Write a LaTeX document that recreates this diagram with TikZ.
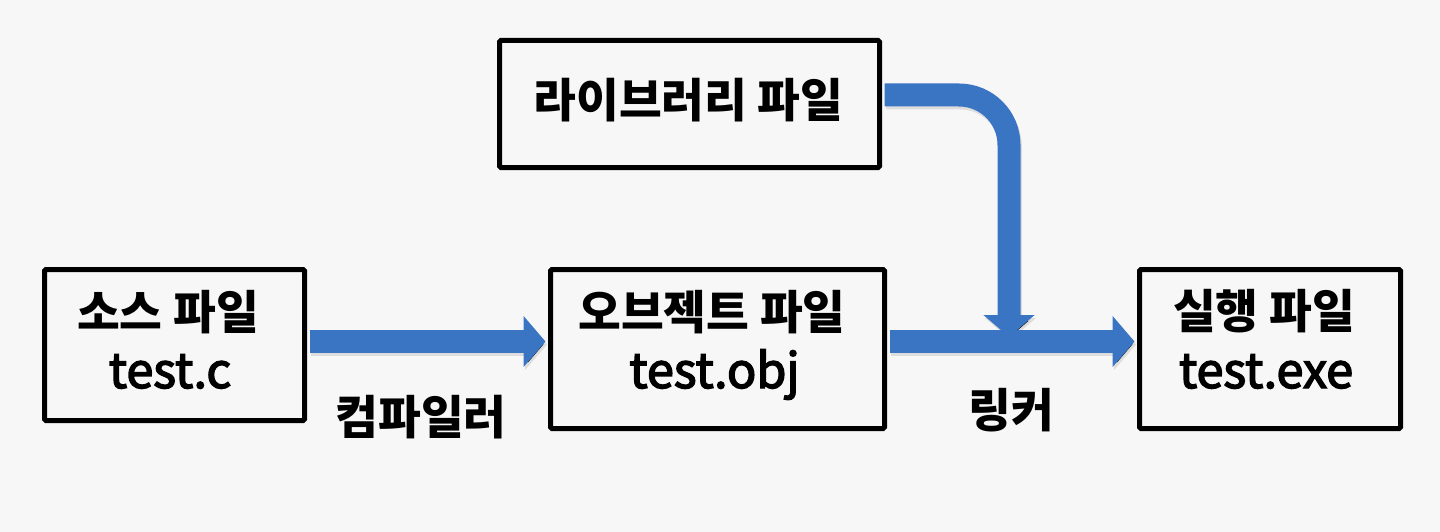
\documentclass[tikz,border=0pt]{standalone}
\usepackage{fontspec}
\newfontfamily\krfont{Noto Sans CJK KR}
\newfontfamily\latfont{Noto Sans CJK KR}[FakeBold=3]
\usetikzlibrary{arrows.meta}
\definecolor{bg}{RGB}{247,247,247}
\definecolor{arrowblue}{RGB}{58,117,196}
\begin{document}
\begin{tikzpicture}[x=1pt,y=-1pt,
  box/.style={draw=black,line width=5pt,rounded corners=1.5pt,inner sep=0pt},
  kt/.style={font=\krfont\bfseries\fontsize{46.5}{50}\selectfont,inner sep=0pt},
  lt/.style={font=\latfont\fontsize{48.5}{50}\selectfont,inner sep=0pt,anchor=base},
  flow/.style={draw=arrowblue,line width=23pt,shorten <=2.5pt,shorten >=2.5pt,
    -{Triangle[width=50pt,length=22pt]}},
  flowshadow/.style={flow,draw=black,draw opacity=0.10,transform canvas={shift={(1.5pt,-3pt)}}}]
\fill[bg] (0,0) rectangle (1440,532);
\useasboundingbox (0,0) rectangle (1440,532);
% boxes
\node[box,minimum width=260pt,minimum height=151pt] (src) at (174.5,345) {};
\node[box,minimum width=334pt,minimum height=159pt] (obj) at (717.5,349) {};
\node[box,minimum width=261pt,minimum height=159pt] (exe) at (1270,349) {};
\node[box,minimum width=380pt,minimum height=127pt] (lib) at (689.5,104) {};
% texts
\node[kt] (srcname) at (168,312) {소스 파일};
\node[lt] (srcfile) at (170,388) {test.c};
\node[kt] (objname) at (712,312) {오브젝트 파일};
\node[lt] (objfile) at (714.5,388) {test.obj};
\node[kt] (exename) at (1264,311) {실행 파일};
\node[lt] (exefile) at (1266,388) {test.exe};
\node[kt] (libname) at (688.5,100) {라이브러리 파일};
\node[kt] (compile) at (421,417) {컴파일러};
\node[kt] (link) at (1011,410) {링커};
% connectors
\coordinate (m) at (0,341.5);
\coordinate (lm) at (0,95);
\coordinate (drop) at (1009,339.5);
\draw[flowshadow] (src.east |- m) -- (obj.west |- m);
\draw[flowshadow] (obj.east |- m) -- (exe.west |- m);
\draw[flowshadow,rounded corners=50pt] (lib.east |- lm) -| (drop);
\draw[flow] (src.east |- m) -- (obj.west |- m);
\draw[flow] (obj.east |- m) -- (exe.west |- m);
\draw[flow,rounded corners=50pt] (lib.east |- lm) -| (drop);
\end{tikzpicture}
\end{document}
